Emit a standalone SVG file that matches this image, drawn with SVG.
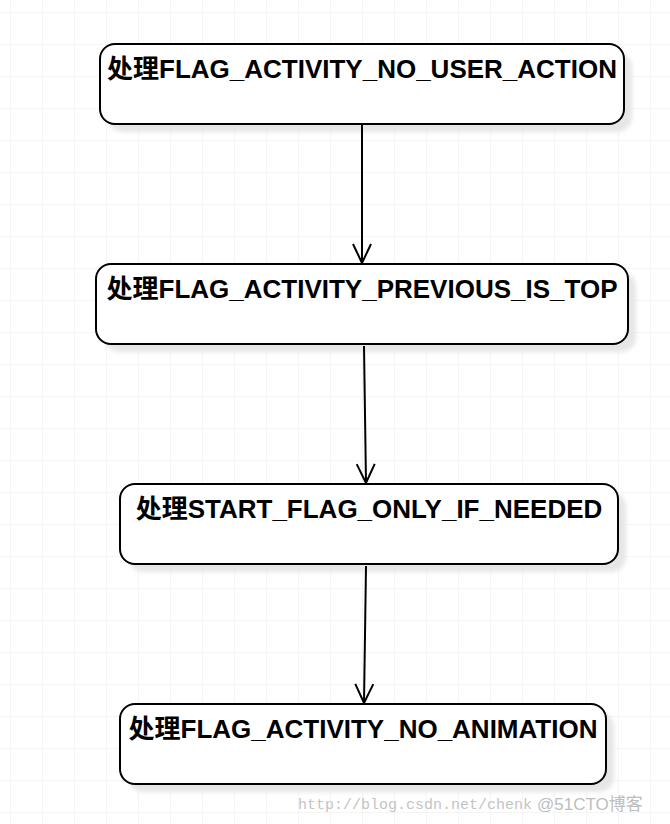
<svg xmlns="http://www.w3.org/2000/svg" width="670" height="824" viewBox="0 0 670 824">
<defs>
<pattern id="grid" x="10" y="12" width="32" height="32" patternUnits="userSpaceOnUse">
<path d="M0 0H32M0 0V32" fill="none" stroke="#ececec" stroke-width="1"/>
</pattern>
<filter id="blur" x="-10%" y="-30%" width="120%" height="160%"><feGaussianBlur stdDeviation="2"/></filter>
<marker id="arr" viewBox="0 0 24 24" refX="22" refY="12" markerWidth="24" markerHeight="24" markerUnits="userSpaceOnUse" orient="auto">
<path d="M3 3L22 12L3 21" fill="none" stroke="#000" stroke-width="2"/>
</marker>
</defs>
<style>
.box{fill:#fff;stroke:#000;stroke-width:2}
.sh{fill:#e6e6e6;filter:url(#blur)}
.lbl{font-family:"Liberation Sans","Noto Sans CJK SC",sans-serif;font-size:26px;font-weight:bold;fill:#000;text-anchor:middle}
.edge{fill:none;stroke:#000;stroke-width:2}
</style>
<rect width="670" height="824" fill="#fff"/>
<rect width="670" height="824" fill="url(#grid)"/>
<g id="n1">
<rect class="sh" x="108" y="52" width="524" height="80" rx="15"/>
<rect class="box" x="100" y="44" width="524" height="80" rx="15"/>
<text class="lbl" x="362" y="78">处理FLAG_ACTIVITY_NO_USER_ACTION</text>
</g>
<g id="n2">
<rect class="sh" x="104" y="272" width="532" height="80" rx="15"/>
<rect class="box" x="96" y="264" width="532" height="80" rx="15"/>
<text class="lbl" x="362" y="298">处理FLAG_ACTIVITY_PREVIOUS_IS_TOP</text>
</g>
<g id="n3">
<rect class="sh" x="128" y="492" width="498" height="80" rx="15"/>
<rect class="box" x="120" y="484" width="498" height="80" rx="15"/>
<text class="lbl" x="369" y="518">处理START_FLAG_ONLY_IF_NEEDED</text>
</g>
<g id="n4">
<rect class="sh" x="128" y="712" width="486" height="80" rx="15"/>
<rect class="box" x="120" y="704" width="486" height="80" rx="15"/>
<text class="lbl" x="363" y="738">处理FLAG_ACTIVITY_NO_ANIMATION</text>
</g>
<g id="edges">
<path class="edge" d="M362 125L362 263" marker-end="url(#arr)"/>
<path class="edge" d="M364 346L366 483" marker-end="url(#arr)"/>
<path class="edge" d="M366 566L364 703" marker-end="url(#arr)"/>
</g>
<g id="watermark">
<text x="298" y="809" font-family="Liberation Mono,monospace" font-size="15" fill="#c4c4c4">http://blog.csdn.net/chenk</text>
<text x="537" y="810" font-family="Liberation Sans,Noto Sans CJK SC,sans-serif" font-size="17" fill="#bdbdbd">@51CTO博客</text>
</g>
</svg>
